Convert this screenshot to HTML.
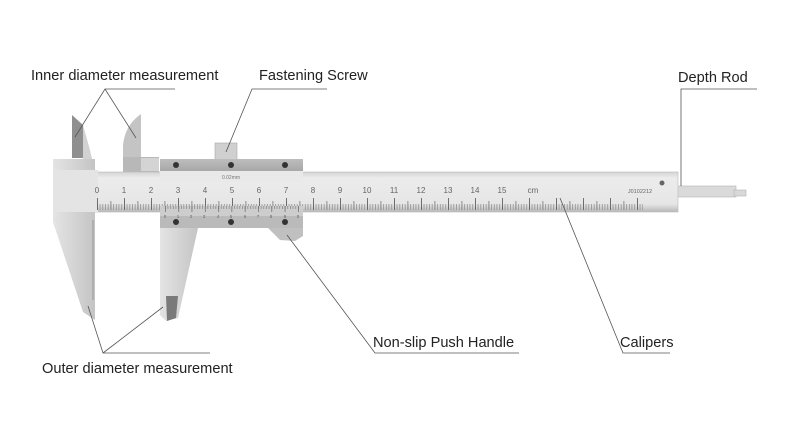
<!DOCTYPE html>
<html><head><meta charset="utf-8"><style>
html,body{margin:0;padding:0;background:#fff;}
svg{display:block;}
text{font-family:"Liberation Sans",sans-serif;}
</style></head><body>
<svg width="790" height="421" viewBox="0 0 790 421" xmlns="http://www.w3.org/2000/svg">
<defs>
<linearGradient id="beam" x1="0" y1="0" x2="0" y2="1">
<stop offset="0" stop-color="#d4d4d4"/><stop offset="0.15" stop-color="#ececec"/><stop offset="0.8" stop-color="#e6e6e6"/><stop offset="1" stop-color="#b8b8b8"/></linearGradient>
<linearGradient id="jaw" x1="0" y1="0" x2="1" y2="0">
<stop offset="0" stop-color="#e4e4e4"/><stop offset="1" stop-color="#c4c4c4"/></linearGradient>
<linearGradient id="strip" x1="0" y1="0" x2="0" y2="1">
<stop offset="0" stop-color="#bdbdbd"/><stop offset="1" stop-color="#a8a8a8"/></linearGradient>
<pattern id="p1" x="97" y="0" width="2.7" height="421" patternUnits="userSpaceOnUse"><rect x="0" y="204" width="0.7" height="6" fill="#888"/></pattern>
<pattern id="p5" x="97" y="0" width="13.5" height="421" patternUnits="userSpaceOnUse"><rect x="0" y="201" width="0.8" height="9" fill="#777"/></pattern>
<pattern id="p10" x="97" y="0" width="27" height="421" patternUnits="userSpaceOnUse"><rect x="0" y="198" width="0.9" height="12" fill="#666"/></pattern>
<pattern id="v1" x="165" y="0" width="2.66" height="421" patternUnits="userSpaceOnUse"><rect x="0" y="206" width="0.6" height="3" fill="#777"/></pattern>
<pattern id="v5" x="165" y="0" width="13.3" height="421" patternUnits="userSpaceOnUse"><rect x="0" y="206" width="0.7" height="6" fill="#666"/></pattern>
</defs>
<rect x="676" y="186" width="60" height="11" fill="#dadada" stroke="#b5b5b5" stroke-width="0.6"/>
<rect x="734" y="190" width="12" height="6" fill="#d8d8d8" stroke="#b5b5b5" stroke-width="0.6"/>
<polygon points="72,115 83,125 83,158 72,158" fill="#8f8f8f"/>
<polygon points="83,125 90,150 95,172 83,172" fill="#d2d2d2"/>
<path d="M141,114 Q125,125 123,145 L123,172 L141,172 Z" fill="#c4c4c4"/>
<rect x="123" y="157" width="36" height="15" fill="#b8b8b8"/>
<rect x="141" y="158" width="18" height="13" fill="#d4d4d4"/>
<polygon points="53,159 95,159 95,320 83,312 53,222" fill="url(#jaw)"/>
<line x1="93" y1="220" x2="93" y2="300" stroke="#999" stroke-width="1"/>
<rect x="95" y="172" width="583" height="40" fill="url(#beam)" stroke="#bbb" stroke-width="0.6"/>
<rect x="53" y="170" width="45" height="42" fill="#e4e4e4"/>
<rect x="97" y="197" width="546" height="14" fill="url(#p1)"/>
<rect x="97" y="197" width="546" height="14" fill="url(#p5)"/>
<rect x="97" y="197" width="546" height="14" fill="url(#p10)"/>
<g font-size="8" fill="#666" text-anchor="middle">
<text x="97" y="193">0</text><text x="124" y="193">1</text><text x="151" y="193">2</text><text x="178" y="193">3</text><text x="205" y="193">4</text><text x="232" y="193">5</text><text x="259" y="193">6</text><text x="286" y="193">7</text><text x="313" y="193">8</text><text x="340" y="193">9</text><text x="367" y="193">10</text><text x="394" y="193">11</text><text x="421" y="193">12</text><text x="448" y="193">13</text><text x="475" y="193">14</text><text x="502" y="193">15</text><text x="533" y="193">cm</text>
<text x="640" y="193" font-size="5.5">J0102212</text>
</g>
<circle cx="662" cy="183" r="2.5" fill="#666"/>
<rect x="215" y="143" width="22" height="17" fill="#d0d0d0" stroke="#aaa" stroke-width="0.6"/>
<rect x="160" y="159" width="143" height="12" fill="url(#strip)"/>
<rect x="160" y="171" width="143" height="11" fill="#e9e9e9"/>
<text x="231" y="179" font-size="5" fill="#777" text-anchor="middle">0.02mm</text>
<rect x="160" y="206" width="143" height="22" fill="#bababa"/>
<rect x="160" y="206" width="143" height="10" fill="#cdcdcd"/>
<rect x="163" y="205" width="136" height="9" fill="url(#v1)"/>
<rect x="163" y="205" width="136" height="9" fill="url(#v5)"/>
<polygon points="268,228 303,228 303,236 295,241 280,240" fill="#c0c0c0"/>
<polygon points="160,228 198,228 178,318 166,321 160,315" fill="url(#jaw)"/>
<polygon points="166,296 178,296 176,318 167,321" fill="#7a7a7a"/>
<g fill="#333"><circle cx="176" cy="165" r="3"/><circle cx="231" cy="165" r="3"/><circle cx="285" cy="165" r="3"/><circle cx="176" cy="222" r="3"/><circle cx="231" cy="222" r="3"/><circle cx="285" cy="222" r="3"/></g>
<g font-size="4.5" fill="#666" text-anchor="middle"><text x="165" y="218">0</text><text x="178" y="218">1</text><text x="191" y="218">2</text><text x="204" y="218">3</text><text x="218" y="218">4</text><text x="231" y="218">5</text><text x="245" y="218">6</text><text x="258" y="218">7</text><text x="271" y="218">8</text><text x="285" y="218">9</text><text x="298" y="218">0</text></g>
<g stroke="#555" stroke-width="0.8" fill="none">
<polyline points="75,137 105,89 175,89"/><line x1="105" y1="89" x2="136" y2="138"/>
<polyline points="226,152 252,89 327,89"/>
<polyline points="681,186 681,89 757,89"/>
<polyline points="88,306 103,353 210,353"/><line x1="103" y1="353" x2="163" y2="307"/>
<polyline points="287,235 375,353 519,353"/>
<polyline points="560,198 623,353 670,353"/>
</g>
<g font-size="14.6" fill="#222">
<text x="31" y="80">Inner diameter measurement</text>
<text x="259" y="80">Fastening Screw</text>
<text x="678" y="82">Depth Rod</text>
<text x="373" y="347">Non-slip Push Handle</text>
<text x="620" y="347">Calipers</text>
<text x="42" y="373">Outer diameter measurement</text>
</g>
</svg>
</body></html>
